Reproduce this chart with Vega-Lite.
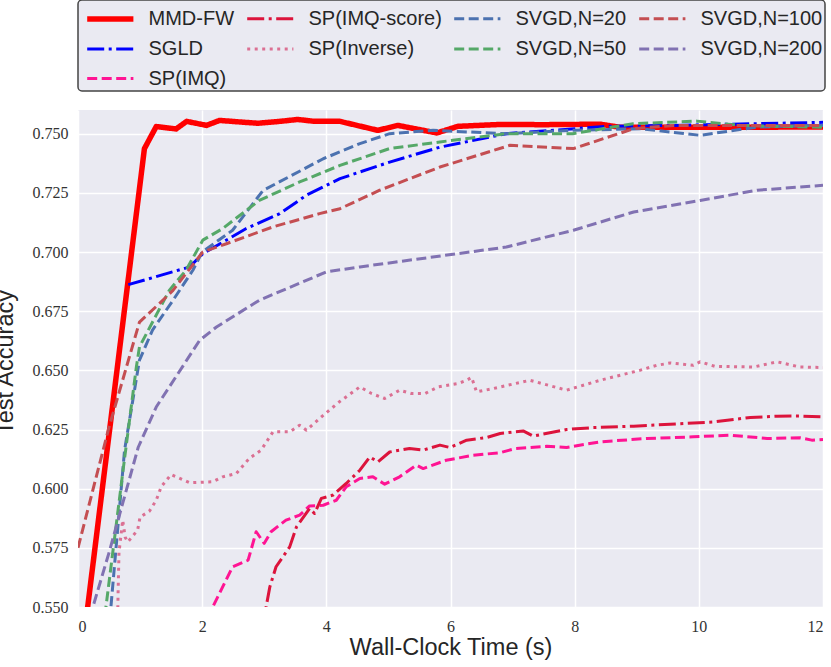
{
  "$schema": "https://vega.github.io/schema/vega-lite/v6.json",
  "width": 745,
  "height": 497,
  "autosize": "none",
  "padding": {"left": 78, "top": 110, "right": 8, "bottom": 60},
  "background": "white",
  "data": {
    "values": [
      {"s": "MMD-FW", "t": 0, "a": 0.517},
      {"s": "MMD-FW", "t": 1.07, "a": 0.7437},
      {"s": "MMD-FW", "t": 1.26, "a": 0.753},
      {"s": "MMD-FW", "t": 1.58, "a": 0.752},
      {"s": "MMD-FW", "t": 1.75, "a": 0.7552},
      {"s": "MMD-FW", "t": 2.07, "a": 0.7535},
      {"s": "MMD-FW", "t": 2.28, "a": 0.7556},
      {"s": "MMD-FW", "t": 2.68, "a": 0.7548},
      {"s": "MMD-FW", "t": 2.9, "a": 0.7544},
      {"s": "MMD-FW", "t": 3.25, "a": 0.7552},
      {"s": "MMD-FW", "t": 3.54, "a": 0.756},
      {"s": "MMD-FW", "t": 3.81, "a": 0.7552},
      {"s": "MMD-FW", "t": 4.22, "a": 0.7552},
      {"s": "MMD-FW", "t": 4.83, "a": 0.7514},
      {"s": "MMD-FW", "t": 5.15, "a": 0.7535},
      {"s": "MMD-FW", "t": 5.78, "a": 0.7503},
      {"s": "MMD-FW", "t": 6.12, "a": 0.7531},
      {"s": "MMD-FW", "t": 6.8, "a": 0.7539},
      {"s": "MMD-FW", "t": 7.5, "a": 0.7538},
      {"s": "MMD-FW", "t": 8.41, "a": 0.754},
      {"s": "MMD-FW", "t": 8.73, "a": 0.7527},
      {"s": "MMD-FW", "t": 10.0, "a": 0.7527},
      {"s": "MMD-FW", "t": 12, "a": 0.7528},

      {"s": "SGLD", "t": 0.81, "a": 0.6862},
      {"s": "SGLD", "t": 1.8, "a": 0.6937},
      {"s": "SGLD", "t": 2.01, "a": 0.6993},
      {"s": "SGLD", "t": 2.71, "a": 0.7099},
      {"s": "SGLD", "t": 3.25, "a": 0.7162},
      {"s": "SGLD", "t": 3.68, "a": 0.724},
      {"s": "SGLD", "t": 4.22, "a": 0.731},
      {"s": "SGLD", "t": 5.02, "a": 0.738},
      {"s": "SGLD", "t": 5.83, "a": 0.7443},
      {"s": "SGLD", "t": 6.9, "a": 0.75},
      {"s": "SGLD", "t": 8.52, "a": 0.7531},
      {"s": "SGLD", "t": 9.6, "a": 0.7535},
      {"s": "SGLD", "t": 12, "a": 0.7548},

      {"s": "SP(IMQ)", "t": 2.1, "a": 0.545},
      {"s": "SP(IMQ)", "t": 2.17, "a": 0.55},
      {"s": "SP(IMQ)", "t": 2.49, "a": 0.567},
      {"s": "SP(IMQ)", "t": 2.74, "a": 0.5698},
      {"s": "SP(IMQ)", "t": 2.87, "a": 0.5818},
      {"s": "SP(IMQ)", "t": 3.0, "a": 0.5769},
      {"s": "SP(IMQ)", "t": 3.11, "a": 0.5818},
      {"s": "SP(IMQ)", "t": 3.35, "a": 0.5867},
      {"s": "SP(IMQ)", "t": 3.57, "a": 0.5888},
      {"s": "SP(IMQ)", "t": 3.73, "a": 0.5927},
      {"s": "SP(IMQ)", "t": 3.95, "a": 0.593},
      {"s": "SP(IMQ)", "t": 4.16, "a": 0.5951},
      {"s": "SP(IMQ)", "t": 4.32, "a": 0.6008},
      {"s": "SP(IMQ)", "t": 4.54, "a": 0.6043},
      {"s": "SP(IMQ)", "t": 4.75, "a": 0.605},
      {"s": "SP(IMQ)", "t": 4.94, "a": 0.6019},
      {"s": "SP(IMQ)", "t": 5.18, "a": 0.605},
      {"s": "SP(IMQ)", "t": 5.45, "a": 0.6099},
      {"s": "SP(IMQ)", "t": 5.56, "a": 0.6085},
      {"s": "SP(IMQ)", "t": 5.93, "a": 0.612},
      {"s": "SP(IMQ)", "t": 6.36, "a": 0.6141},
      {"s": "SP(IMQ)", "t": 6.8, "a": 0.6152},
      {"s": "SP(IMQ)", "t": 7.05, "a": 0.617},
      {"s": "SP(IMQ)", "t": 7.55, "a": 0.6179},
      {"s": "SP(IMQ)", "t": 7.87, "a": 0.6174},
      {"s": "SP(IMQ)", "t": 8.41, "a": 0.6198},
      {"s": "SP(IMQ)", "t": 9.16, "a": 0.6212},
      {"s": "SP(IMQ)", "t": 9.91, "a": 0.6219},
      {"s": "SP(IMQ)", "t": 10.5, "a": 0.6226},
      {"s": "SP(IMQ)", "t": 11.1, "a": 0.6212},
      {"s": "SP(IMQ)", "t": 11.63, "a": 0.6215},
      {"s": "SP(IMQ)", "t": 11.82, "a": 0.6205},
      {"s": "SP(IMQ)", "t": 12, "a": 0.6208},

      {"s": "SP(IMQ-score)", "t": 2.99, "a": 0.54},
      {"s": "SP(IMQ-score)", "t": 3.03, "a": 0.55},
      {"s": "SP(IMQ-score)", "t": 3.09, "a": 0.5585},
      {"s": "SP(IMQ-score)", "t": 3.19, "a": 0.567},
      {"s": "SP(IMQ-score)", "t": 3.41, "a": 0.5754},
      {"s": "SP(IMQ-score)", "t": 3.52, "a": 0.5839},
      {"s": "SP(IMQ-score)", "t": 3.73, "a": 0.5916},
      {"s": "SP(IMQ-score)", "t": 3.81, "a": 0.5895},
      {"s": "SP(IMQ-score)", "t": 3.92, "a": 0.5959},
      {"s": "SP(IMQ-score)", "t": 4.11, "a": 0.5973},
      {"s": "SP(IMQ-score)", "t": 4.32, "a": 0.6022},
      {"s": "SP(IMQ-score)", "t": 4.54, "a": 0.6078},
      {"s": "SP(IMQ-score)", "t": 4.7, "a": 0.6134},
      {"s": "SP(IMQ-score)", "t": 4.83, "a": 0.6113},
      {"s": "SP(IMQ-score)", "t": 5.02, "a": 0.6155},
      {"s": "SP(IMQ-score)", "t": 5.34, "a": 0.617},
      {"s": "SP(IMQ-score)", "t": 5.56, "a": 0.6163},
      {"s": "SP(IMQ-score)", "t": 5.83, "a": 0.6184},
      {"s": "SP(IMQ-score)", "t": 5.99, "a": 0.6174},
      {"s": "SP(IMQ-score)", "t": 6.26, "a": 0.6205},
      {"s": "SP(IMQ-score)", "t": 6.58, "a": 0.6216},
      {"s": "SP(IMQ-score)", "t": 6.8, "a": 0.6233},
      {"s": "SP(IMQ-score)", "t": 7.17, "a": 0.6244},
      {"s": "SP(IMQ-score)", "t": 7.33, "a": 0.6222},
      {"s": "SP(IMQ-score)", "t": 7.87, "a": 0.625},
      {"s": "SP(IMQ-score)", "t": 8.3, "a": 0.6258},
      {"s": "SP(IMQ-score)", "t": 8.95, "a": 0.6264},
      {"s": "SP(IMQ-score)", "t": 9.75, "a": 0.6275},
      {"s": "SP(IMQ-score)", "t": 10.24, "a": 0.6282},
      {"s": "SP(IMQ-score)", "t": 10.83, "a": 0.6301},
      {"s": "SP(IMQ-score)", "t": 11.26, "a": 0.6306},
      {"s": "SP(IMQ-score)", "t": 11.63, "a": 0.6307},
      {"s": "SP(IMQ-score)", "t": 12, "a": 0.6303},

      {"s": "SP(Inverse)", "t": 0.635, "a": 0.54},
      {"s": "SP(Inverse)", "t": 0.645, "a": 0.555},
      {"s": "SP(Inverse)", "t": 0.66, "a": 0.573},
      {"s": "SP(Inverse)", "t": 0.72, "a": 0.5867},
      {"s": "SP(Inverse)", "t": 0.76, "a": 0.5795},
      {"s": "SP(Inverse)", "t": 0.8, "a": 0.5775},
      {"s": "SP(Inverse)", "t": 0.85, "a": 0.579},
      {"s": "SP(Inverse)", "t": 0.96, "a": 0.5825},
      {"s": "SP(Inverse)", "t": 1.0, "a": 0.588},
      {"s": "SP(Inverse)", "t": 1.15, "a": 0.5905},
      {"s": "SP(Inverse)", "t": 1.26, "a": 0.5951},
      {"s": "SP(Inverse)", "t": 1.34, "a": 0.6008},
      {"s": "SP(Inverse)", "t": 1.5, "a": 0.606},
      {"s": "SP(Inverse)", "t": 1.8, "a": 0.6025},
      {"s": "SP(Inverse)", "t": 2.17, "a": 0.6029},
      {"s": "SP(Inverse)", "t": 2.33, "a": 0.605},
      {"s": "SP(Inverse)", "t": 2.55, "a": 0.6064},
      {"s": "SP(Inverse)", "t": 2.76, "a": 0.6128},
      {"s": "SP(Inverse)", "t": 2.95, "a": 0.6163},
      {"s": "SP(Inverse)", "t": 3.14, "a": 0.624},
      {"s": "SP(Inverse)", "t": 3.41, "a": 0.624},
      {"s": "SP(Inverse)", "t": 3.57, "a": 0.6268},
      {"s": "SP(Inverse)", "t": 3.68, "a": 0.6247},
      {"s": "SP(Inverse)", "t": 3.95, "a": 0.631},
      {"s": "SP(Inverse)", "t": 4.21, "a": 0.6367},
      {"s": "SP(Inverse)", "t": 4.54, "a": 0.643},
      {"s": "SP(Inverse)", "t": 4.73, "a": 0.6402},
      {"s": "SP(Inverse)", "t": 4.94, "a": 0.6381},
      {"s": "SP(Inverse)", "t": 5.18, "a": 0.6416},
      {"s": "SP(Inverse)", "t": 5.37, "a": 0.6402},
      {"s": "SP(Inverse)", "t": 5.59, "a": 0.6402},
      {"s": "SP(Inverse)", "t": 5.8, "a": 0.643},
      {"s": "SP(Inverse)", "t": 6.12, "a": 0.6444},
      {"s": "SP(Inverse)", "t": 6.26, "a": 0.6458},
      {"s": "SP(Inverse)", "t": 6.34, "a": 0.647},
      {"s": "SP(Inverse)", "t": 6.42, "a": 0.6409},
      {"s": "SP(Inverse)", "t": 6.69, "a": 0.6423},
      {"s": "SP(Inverse)", "t": 7.04, "a": 0.6444},
      {"s": "SP(Inverse)", "t": 7.28, "a": 0.6458},
      {"s": "SP(Inverse)", "t": 7.87, "a": 0.6416},
      {"s": "SP(Inverse)", "t": 8.41, "a": 0.6458},
      {"s": "SP(Inverse)", "t": 9.05, "a": 0.65},
      {"s": "SP(Inverse)", "t": 9.32, "a": 0.6521},
      {"s": "SP(Inverse)", "t": 9.54, "a": 0.6531},
      {"s": "SP(Inverse)", "t": 9.91, "a": 0.6521},
      {"s": "SP(Inverse)", "t": 10.02, "a": 0.6536},
      {"s": "SP(Inverse)", "t": 10.26, "a": 0.6517},
      {"s": "SP(Inverse)", "t": 10.88, "a": 0.6514},
      {"s": "SP(Inverse)", "t": 11.26, "a": 0.6536},
      {"s": "SP(Inverse)", "t": 11.63, "a": 0.6514},
      {"s": "SP(Inverse)", "t": 12, "a": 0.6512},

      {"s": "SVGD,N=20", "t": 0.45, "a": 0.526},
      {"s": "SVGD,N=20", "t": 0.53, "a": 0.55},
      {"s": "SVGD,N=20", "t": 0.75, "a": 0.6163},
      {"s": "SVGD,N=20", "t": 0.99, "a": 0.6543},
      {"s": "SVGD,N=20", "t": 1.2, "a": 0.667},
      {"s": "SVGD,N=20", "t": 1.53, "a": 0.6796},
      {"s": "SVGD,N=20", "t": 1.85, "a": 0.6923},
      {"s": "SVGD,N=20", "t": 2.0, "a": 0.7},
      {"s": "SVGD,N=20", "t": 2.49, "a": 0.7092},
      {"s": "SVGD,N=20", "t": 2.98, "a": 0.726},
      {"s": "SVGD,N=20", "t": 3.95, "a": 0.7394},
      {"s": "SVGD,N=20", "t": 4.54, "a": 0.7458},
      {"s": "SVGD,N=20", "t": 5.02, "a": 0.75},
      {"s": "SVGD,N=20", "t": 5.72, "a": 0.7514},
      {"s": "SVGD,N=20", "t": 6.9, "a": 0.75},
      {"s": "SVGD,N=20", "t": 7.97, "a": 0.7514},
      {"s": "SVGD,N=20", "t": 9.05, "a": 0.7521},
      {"s": "SVGD,N=20", "t": 10.02, "a": 0.7493},
      {"s": "SVGD,N=20", "t": 10.94, "a": 0.7528},
      {"s": "SVGD,N=20", "t": 12, "a": 0.7535},

      {"s": "SVGD,N=50", "t": 0.38, "a": 0.528},
      {"s": "SVGD,N=50", "t": 0.45, "a": 0.55},
      {"s": "SVGD,N=50", "t": 0.72, "a": 0.6066},
      {"s": "SVGD,N=50", "t": 0.94, "a": 0.6514},
      {"s": "SVGD,N=50", "t": 0.99, "a": 0.6599},
      {"s": "SVGD,N=50", "t": 1.47, "a": 0.6838},
      {"s": "SVGD,N=50", "t": 1.74, "a": 0.6923},
      {"s": "SVGD,N=50", "t": 2.01, "a": 0.705},
      {"s": "SVGD,N=50", "t": 2.33, "a": 0.7099},
      {"s": "SVGD,N=50", "t": 2.92, "a": 0.7218},
      {"s": "SVGD,N=50", "t": 3.57, "a": 0.7296},
      {"s": "SVGD,N=50", "t": 4.22, "a": 0.7366},
      {"s": "SVGD,N=50", "t": 5.02, "a": 0.7437},
      {"s": "SVGD,N=50", "t": 5.83, "a": 0.7465},
      {"s": "SVGD,N=50", "t": 6.9, "a": 0.75},
      {"s": "SVGD,N=50", "t": 7.97, "a": 0.75},
      {"s": "SVGD,N=50", "t": 8.94, "a": 0.7542},
      {"s": "SVGD,N=50", "t": 9.97, "a": 0.7553},
      {"s": "SVGD,N=50", "t": 10.67, "a": 0.7535},
      {"s": "SVGD,N=50", "t": 12, "a": 0.7527},

      {"s": "SVGD,N=100", "t": 0, "a": 0.575},
      {"s": "SVGD,N=100", "t": 0.5, "a": 0.626},
      {"s": "SVGD,N=100", "t": 0.99, "a": 0.6704},
      {"s": "SVGD,N=100", "t": 1.31, "a": 0.6782},
      {"s": "SVGD,N=100", "t": 1.53, "a": 0.6838},
      {"s": "SVGD,N=100", "t": 2.01, "a": 0.7},
      {"s": "SVGD,N=100", "t": 2.39, "a": 0.7035},
      {"s": "SVGD,N=100", "t": 3.14, "a": 0.7106},
      {"s": "SVGD,N=100", "t": 3.89, "a": 0.7162},
      {"s": "SVGD,N=100", "t": 4.22, "a": 0.7183},
      {"s": "SVGD,N=100", "t": 4.86, "a": 0.7261},
      {"s": "SVGD,N=100", "t": 5.83, "a": 0.7359},
      {"s": "SVGD,N=100", "t": 6.96, "a": 0.7451},
      {"s": "SVGD,N=100", "t": 7.98, "a": 0.7437},
      {"s": "SVGD,N=100", "t": 8.95, "a": 0.7521},
      {"s": "SVGD,N=100", "t": 9.59, "a": 0.7535},
      {"s": "SVGD,N=100", "t": 12, "a": 0.7535},

      {"s": "SVGD,N=200", "t": 0.17, "a": 0.527},
      {"s": "SVGD,N=200", "t": 0.24, "a": 0.55},
      {"s": "SVGD,N=200", "t": 0.5, "a": 0.573},
      {"s": "SVGD,N=200", "t": 0.97, "a": 0.6175},
      {"s": "SVGD,N=200", "t": 1.26, "a": 0.6345},
      {"s": "SVGD,N=200", "t": 1.96, "a": 0.6627},
      {"s": "SVGD,N=200", "t": 2.23, "a": 0.6683},
      {"s": "SVGD,N=200", "t": 2.92, "a": 0.6796},
      {"s": "SVGD,N=200", "t": 4.0, "a": 0.6916},
      {"s": "SVGD,N=200", "t": 4.54, "a": 0.6937},
      {"s": "SVGD,N=200", "t": 6.9, "a": 0.7021},
      {"s": "SVGD,N=200", "t": 7.98, "a": 0.7092},
      {"s": "SVGD,N=200", "t": 8.95, "a": 0.7169},
      {"s": "SVGD,N=200", "t": 10.02, "a": 0.7218},
      {"s": "SVGD,N=200", "t": 10.94, "a": 0.7261},
      {"s": "SVGD,N=200", "t": 12, "a": 0.7282}
    ]
  },
  "mark": {"type": "line", "clip": true, "strokeJoin": "round"},
  "encoding": {
    "x": {
      "field": "t",
      "type": "quantitative",
      "title": "Wall-Clock Time (s)",
      "scale": {"domain": [0, 12], "nice": false, "zero": false},
      "axis": {"values": [0, 2, 4, 6, 8, 10, 12], "format": "d", "titleY": 47, "titleBaseline": "alphabetic"}
    },
    "y": {
      "field": "a",
      "type": "quantitative",
      "title": "Test Accuracy",
      "scale": {"domain": [0.55, 0.76], "nice": false, "zero": false},
      "axis": {
        "values": [0.55, 0.575, 0.6, 0.625, 0.65, 0.675, 0.7, 0.725, 0.75],
        "format": ".3f",
        "titleX": -66,
        "titleY": 252,
        "titleAngle": 270,
        "titleAlign": "center",
        "titleBaseline": "alphabetic"
      }
    },
    "color": {
      "field": "s",
      "type": "nominal",
      "scale": {
        "domain": ["MMD-FW", "SP(IMQ-score)", "SVGD,N=20", "SVGD,N=100", "SGLD", "SP(Inverse)", "SVGD,N=50", "SVGD,N=200", "SP(IMQ)"],
        "range": ["#ff0000", "#dc143c", "#4c72b0", "#c44e52", "#0000ff", "#db7093", "#55a868", "#8172b2", "#ff1493"]
      },
      "legend": {"title": null, "symbolType": "M-0.7,0H2.6"}
    },
    "strokeDash": {
      "field": "s",
      "type": "nominal",
      "scale": {
        "domain": ["MMD-FW", "SP(IMQ-score)", "SVGD,N=20", "SVGD,N=100", "SGLD", "SP(Inverse)", "SVGD,N=50", "SVGD,N=200", "SP(IMQ)"],
        "range": [[1, 0], [17, 4.5, 3, 4.5], [10, 4.5], [10, 4.5], [17, 4.5, 3, 4.5], [3, 4.5], [10, 4.5], [10, 4.5], [10, 4.5]]
      },
      "legend": {"title": null, "symbolType": "M-0.7,0H2.6"}
    },
    "strokeWidth": {
      "field": "s",
      "type": "nominal",
      "scale": {
        "type": "ordinal",
        "domain": ["MMD-FW", "SP(IMQ-score)", "SVGD,N=20", "SVGD,N=100", "SGLD", "SP(Inverse)", "SVGD,N=50", "SVGD,N=200", "SP(IMQ)"],
        "range": [5.5, 3, 3, 3, 3, 3, 3, 3, 3]
      },
      "legend": {"title": null, "symbolType": "M-0.7,0H2.6"}
    }
  },
  "config": {
    "view": {"fill": "#eaeaf2", "stroke": null},
    "axis": {
      "grid": true,
      "gridColor": "#ffffff",
      "gridWidth": 1.5,
      "domain": false,
      "ticks": false,
      "labelFont": "Liberation Serif",
      "labelFontSize": 16,
      "labelColor": "#333333",
      "titleFont": "Liberation Sans",
      "titleFontSize": 23.5,
      "titleFontWeight": "normal",
      "titleColor": "#262626"
    },
    "axisX": {"labelPadding": 11},
    "axisY": {"labelPadding": 10},
    "legend": {
      "orient": "none",
      "direction": "horizontal",
      "legendX": 0,
      "legendY": -110,
      "columns": 4,
      "columnPadding": 5,
      "rowPadding": 3.5,
      "padding": 2,
      "fillColor": "#eaeaf2",
      "strokeColor": "#444444",
      "strokeWidth": 1.5,
      "cornerRadius": 4,
      "symbolSize": 784,
      "labelOffset": 34.5,
      "labelFont": "Liberation Sans",
      "labelFontSize": 20,
      "labelColor": "#262626",
      "labelLimit": 300
    }
  }
}
